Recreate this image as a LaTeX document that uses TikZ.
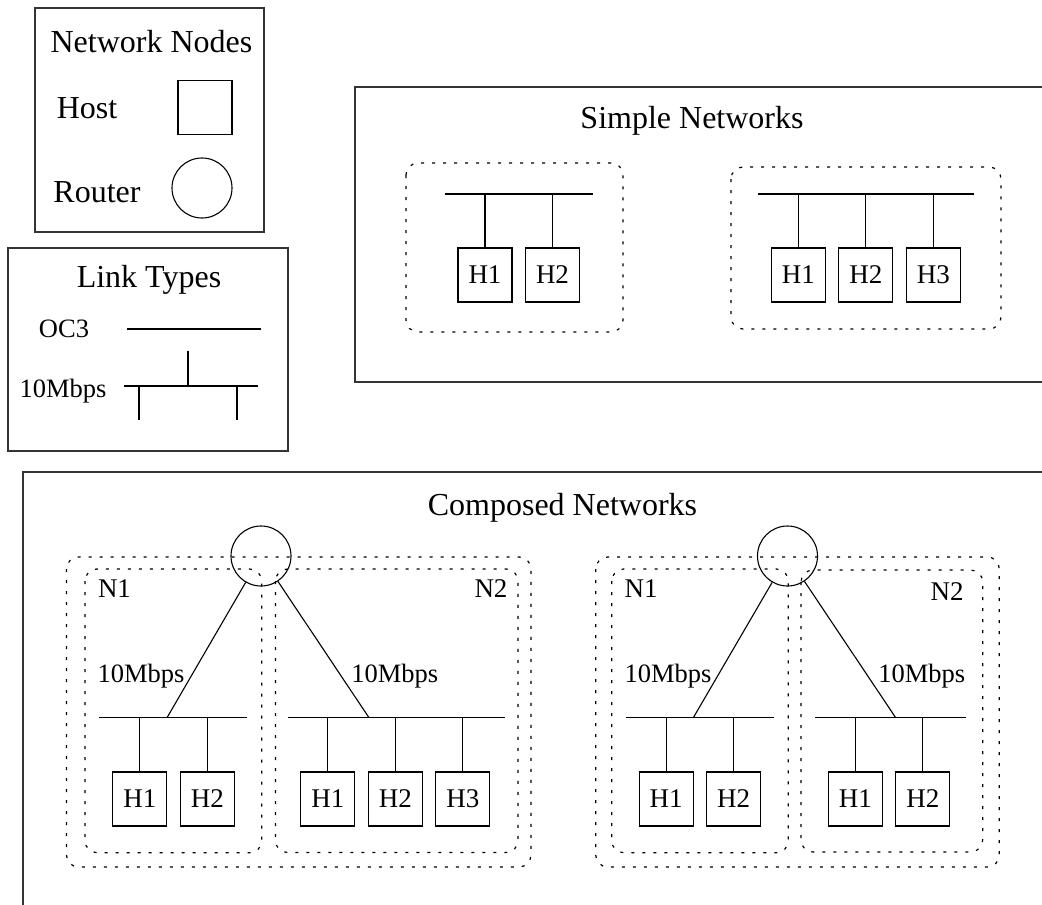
\documentclass[tikz,border=0pt]{standalone}
\usepackage{fontspec}
\setmainfont{Liberation Serif}
\usetikzlibrary{positioning}

\tikzset{
  frame/.style={draw=black!80, line width=1.3pt},
  group/.style={draw, line width=1.2pt, dash pattern=on 3pt off 8pt, rounded corners=12pt},
  host/.style={draw, line width=1.1pt, minimum width=54pt, minimum height=54pt, inner sep=0pt, outer sep=0pt, font=\fontsize{27}{32}\selectfont},
  router/.style={draw, circle, line width=1.1pt, minimum size=60pt, inner sep=0pt},
  link/.style={line width=1.1pt},
  heading/.style={anchor=base, inner sep=0pt, font=\fontsize{32}{38}\selectfont},
  rate/.style={anchor=base, inner sep=0pt, font=\fontsize{26.5}{31}\selectfont},
  netname/.style={anchor=base, inner sep=0pt, font=\fontsize{27}{32}\selectfont},
}

\begin{document}
\begin{tikzpicture}[x=1pt, y=-1pt, node distance=13.5pt]
    \useasboundingbox (0,0) rectangle (1042,905);
    \clip (0,0) rectangle (1042,905);

    % legend: network nodes
    \draw[frame] (35,8) rectangle (264,232);
    \node[heading] (nnTitle) at (151.5,52) {Network Nodes};
    \node[heading] (hostTxt) at (87,118) {Host};
    \node[host] (hostSym) at (205,107.5) {};
    \node[heading] (routerTxt) at (97,202) {Router};
    \node[router] (routerSym) at (202,188) {};

    % legend: link types
    \draw[frame] (8,248) rectangle (288,451);
    \node[heading] (ltTitle) at (149,287) {Link Types};
    \node[rate] (oc3Txt) at (64,337) {OC3};
    \coordinate (oc3L) at (127,329);
    \coordinate (oc3R) at (261,329);
    \draw[link] (oc3L) -- (oc3R);
    \node[rate] (ethTxt) at (63,397) {10Mbps};
    \coordinate (ethL) at (124,386);
    \coordinate (ethR) at (258,386);
    \coordinate (ethUp) at (188,351);
    \coordinate (ethDnA) at (139,420);
    \coordinate (ethDnB) at (237,420);
    \draw[link] (ethL) -- (ethR);
    \foreach \c in {ethUp, ethDnA, ethDnB}
        \draw[link] (\c) -- (\c |- ethL);

    % simple networks
    \draw[frame] (1060,87) -- (355,87) -- (355,382) -- (1060,382);
    \node[heading] (snTitle) at (692,128) {Simple Networks};

    \draw[group] (406,163) rectangle (623,332);
    \coordinate (sAl) at (445,194);
    \coordinate (sAr) at (593,194);
    \draw[link] (sAl) -- (sAr);
    \node[host] (sAh1) at (485,275) {H1};
    \node[host, right=of sAh1] (sAh2) {H2};
    \foreach \h in {sAh1, sAh2}
        \draw[link] (\h.north) -- (\h.north |- sAl);

    \draw[group] (731,167) rectangle (1001,329);
    \coordinate (sBl) at (758,194);
    \coordinate (sBr) at (974,194);
    \draw[link] (sBl) -- (sBr);
    \node[host] (sBh1) at (798.3,275) {H1};
    \node[host, right=of sBh1] (sBh2) {H2};
    \node[host, right=of sBh2] (sBh3) {H3};
    \foreach \h in {sBh1, sBh2, sBh3}
        \draw[link] (\h.north) -- (\h.north |- sBl);

    % composed networks
    \draw[frame] (23,920) -- (23,472) -- (1060,472);
    \node[heading] (cnTitle) at (562.5,515) {Composed Networks};

    % left composition
    \draw[group] (66.5,557) rectangle (531,867);
    \draw[group] (85,569) rectangle (261.7,852.7);
    \draw[group] (275.5,569) rectangle (518,852.5);
    \node[router] (rA) at (261,556) {};
    \node[netname] (cAn1) at (114.5,597) {N1};
    \node[netname] (cAn2) at (491,597) {N2};
    \coordinate (cA1l) at (98.8,717.7);
    \coordinate (cA1r) at (247.3,717.7);
    \coordinate (cA1up) at (167,717.7);
    \coordinate (cA2l) at (288,717.7);
    \coordinate (cA2r) at (504.5,717.7);
    \coordinate (cA2up) at (369,717.7);
    \draw[link] (cA1l) -- (cA1r);
    \draw[link] (cA2l) -- (cA2r);
    \draw[link] (rA) -- (cA1up);
    \draw[link] (rA) -- (cA2up);
    \node[rate] (cArate1) at (141,682) {10Mbps};
    \node[rate] (cArate2) at (394.7,682) {10Mbps};
    \node[host] (cA1h1) at (139.8,799) {H1};
    \node[host, right=of cA1h1] (cA1h2) {H2};
    \node[host] (cA2h1) at (327.9,799) {H1};
    \node[host, right=of cA2h1] (cA2h2) {H2};
    \node[host, right=of cA2h2] (cA2h3) {H3};
    \foreach \h in {cA1h1, cA1h2}
        \draw[link] (\h.north) -- (\h.north |- cA1l);
    \foreach \h in {cA2h1, cA2h2, cA2h3}
        \draw[link] (\h.north) -- (\h.north |- cA2l);

    % right composition
    \draw[group] (595.7,557) rectangle (999.3,867);
    \draw[group] (611.7,569) rectangle (788.3,852.7);
    \draw[group] (801,570) rectangle (982.7,852);
    \node[router] (rB) at (787.5,556) {};
    \node[netname] (cBn1) at (641,597) {N1};
    \node[netname] (cBn2) at (947,600) {N2};
    \coordinate (cB1l) at (626,717.7);
    \coordinate (cB1r) at (774,717.7);
    \coordinate (cB1up) at (693.3,717.7);
    \coordinate (cB2l) at (815,717.7);
    \coordinate (cB2r) at (966,717.7);
    \coordinate (cB2up) at (895.7,717.7);
    \draw[link] (cB1l) -- (cB1r);
    \draw[link] (cB2l) -- (cB2r);
    \draw[link] (rB) -- (cB1up);
    \draw[link] (rB) -- (cB2up);
    \node[rate] (cBrate1) at (668,682) {10Mbps};
    \node[rate] (cBrate2) at (921.7,682) {10Mbps};
    \node[host] (cB1h1) at (666.2,799) {H1};
    \node[host, right=of cB1h1] (cB1h2) {H2};
    \node[host] (cB2h1) at (855.3,799) {H1};
    \node[host, right=of cB2h1] (cB2h2) {H2};
    \foreach \h in {cB1h1, cB1h2}
        \draw[link] (\h.north) -- (\h.north |- cB1l);
    \foreach \h in {cB2h1, cB2h2}
        \draw[link] (\h.north) -- (\h.north |- cB2l);
\end{tikzpicture}
\end{document}
